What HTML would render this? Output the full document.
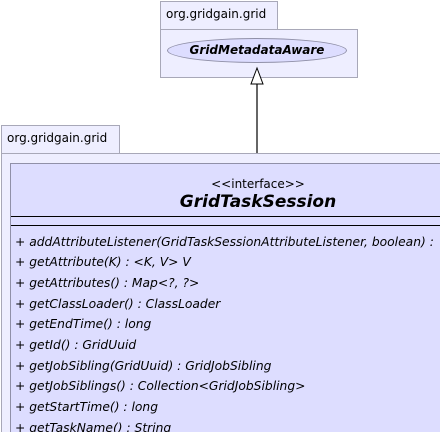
<!DOCTYPE html>
<html><head><style>
html,body{margin:0;width:440px;height:432px;overflow:hidden;background:#fff;}
body{position:relative;font-family:"DejaVu Sans","Liberation Sans",sans-serif;}
div{position:absolute;box-sizing:border-box;}
.pk{background:#eeeeff;border:1px solid #a8a8b8;}
.t{font-size:12px;color:#000;white-space:nowrap;}
.m{position:absolute;left:4px;font-size:12.3px;font-style:italic;white-space:nowrap;line-height:15px;}
</style></head><body>
<div class="pk" style="left:160px;top:1px;width:118px;height:29px;"></div>
<div class="t" style="left:166px;top:7px;">org.gridgain.grid</div>
<div class="pk" style="left:160px;top:29px;width:198px;height:49px;"></div>
<div style="left:167px;top:38px;width:180px;height:25px;border-radius:50%;background:#ddddff;border:1px solid #9090a8;"></div>
<div style="left:167px;top:43px;width:180px;text-align:center;font-size:12px;font-weight:bold;font-style:italic;">GridMetadataAware</div>
<svg style="position:absolute;left:0;top:0" width="440" height="432">
<line x1="257" y1="84" x2="257" y2="164" stroke="#000" stroke-width="1.2"/>
<polygon points="257,68 251,84 263,84" fill="#fff" stroke="#000" stroke-width="1"/>
</svg>
<div class="pk" style="left:1px;top:125px;width:119px;height:29px;"></div>
<div class="t" style="left:7px;top:131px;">org.gridgain.grid</div>
<div class="pk" style="left:1px;top:153px;width:460px;height:279px;border-bottom:none;border-right:none;"></div>
<div style="left:10px;top:163px;width:430px;height:269px;background:#ddddff;border:1px solid #9090a8;border-bottom:none;border-right:none;overflow:hidden;">
<div class="t" style="left:0;width:494px;text-align:center;top:13px;font-size:12px;">&lt;&lt;interface&gt;&gt;</div>
<div style="left:0;width:494px;text-align:center;top:28px;font-size:17px;font-weight:bold;font-style:italic;">GridTaskSession</div>
<div style="left:0;top:52px;width:450px;border-top:1px solid #000;"></div>
<div style="left:0;top:61px;width:450px;border-top:1px solid #000;"></div>
<div class="m" style="top:71px;">+ addAttributeListener(GridTaskSessionAttributeListener, boolean) :</div>
<div class="m" style="top:91px;">+ getAttribute(K) : &lt;K, V&gt; V</div>
<div class="m" style="top:112px;">+ getAttributes() : Map&lt;?, ?&gt;</div>
<div class="m" style="top:133px;">+ getClassLoader() : ClassLoader</div>
<div class="m" style="top:153px;">+ getEndTime() : long</div>
<div class="m" style="top:174px;">+ getId() : GridUuid</div>
<div class="m" style="top:195px;">+ getJobSibling(GridUuid) : GridJobSibling</div>
<div class="m" style="top:215px;">+ getJobSiblings() : Collection&lt;GridJobSibling&gt;</div>
<div class="m" style="top:236px;">+ getStartTime() : long</div>
<div class="m" style="top:257px;">+ getTaskName() : String</div>
</div>
</body></html>
